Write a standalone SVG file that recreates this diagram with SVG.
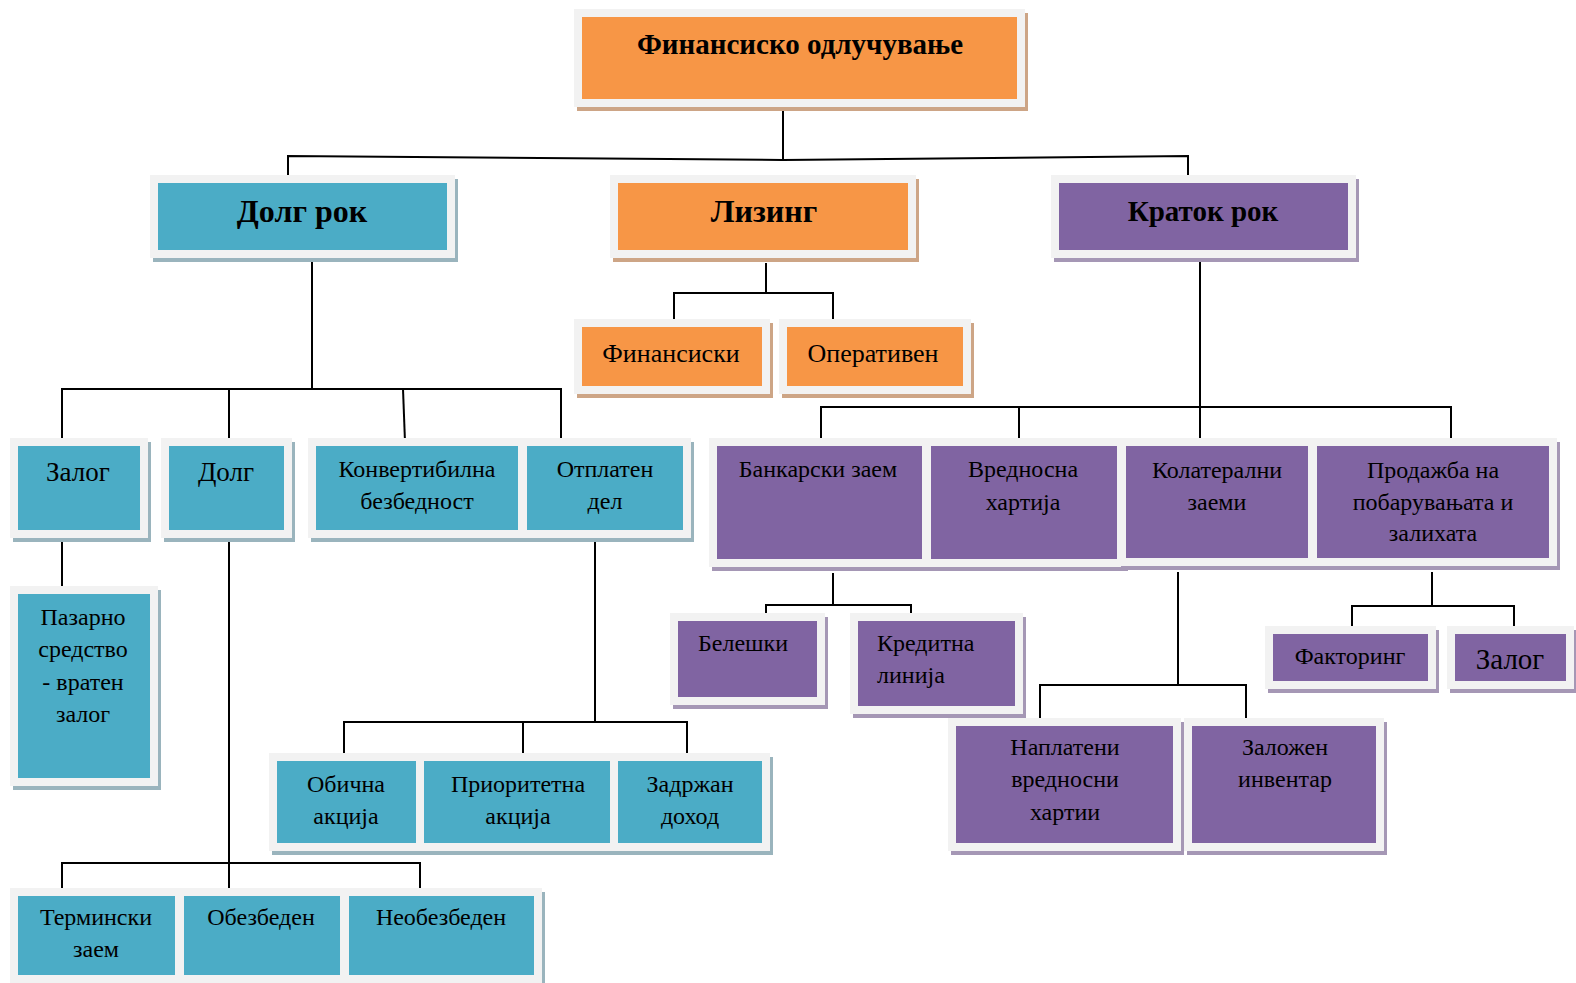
<svg xmlns="http://www.w3.org/2000/svg" width="1576" height="983" viewBox="0 0 1576 983">
<style>
.bg{fill:#ffffff}
.fr{fill:#F2F2F2}
.so{fill:#CDA586}
.sb{fill:#9AB4BD}
.sp{fill:#A597B5}
.o{fill:#F79646}
.b{fill:#4BACC6}
.p{fill:#8064A2}
text{font-family:"Liberation Serif","Times New Roman",serif;fill:#000;text-anchor:middle;font-size:24px}
.tb{font-weight:bold}
.big{font-size:27px}
.m{font-size:26px}
.l{text-anchor:start}
.cn path{fill:none;stroke:#000;stroke-width:2}
</style>
<rect class="bg" x="0" y="0" width="1576" height="983"/>
<g class="cn" id="connectors">
<path d="M783,110 V160"/>
<path d="M288,178 V156 L783,160 L1188,156 V178"/>
<path d="M766,263 V293"/>
<path d="M674,323 V293 H833 V323"/>
<path d="M312,262 V389"/>
<path d="M62,442 V389 H561 V442"/>
<path d="M229,389 V442"/>
<path d="M403,389 L405,442"/>
<path d="M62,540 V590"/>
<path d="M229,540 V893"/>
<path d="M62,893 V863 H420 V893"/>
<path d="M595,540 V722"/>
<path d="M344,757 V722 H687 V757"/>
<path d="M523,722 V757"/>
<path d="M1200,262 V442"/>
<path d="M821,442 V407 H1451 V442"/>
<path d="M1019,407 V442"/>
<path d="M833,573 V605"/>
<path d="M766,617 V605 H911 V617"/>
<path d="M1178,572 V685"/>
<path d="M1040,722 V685 H1246 V722"/>
<path d="M1432,572 V606"/>
<path d="M1352,632 V606 H1514 V632"/>
</g>
<g id="n-top"><rect class="so" x="577" y="13" width="451" height="98"/><rect class="fr" x="574" y="9" width="451" height="98"/><rect class="o" x="582" y="17" width="435" height="82"/><text class="tb" x="800" y="54" style="font-size:29px">Финансиско одлучување</text></g>
<g id="n-dolgrok"><rect class="sb" x="153" y="179" width="305" height="83"/><rect class="fr" x="150" y="175" width="305" height="83"/><rect class="b" x="158" y="183" width="289" height="67"/><text class="tb" x="302" y="222" style="font-size:32px">Долг рок</text></g>
<g id="n-lizing"><rect class="so" x="613" y="179" width="306" height="83"/><rect class="fr" x="610" y="175" width="306" height="83"/><rect class="o" x="618" y="183" width="290" height="67"/><text class="tb" x="764" y="222" style="font-size:32px">Лизинг</text></g>
<g id="n-kratokrok"><rect class="sp" x="1054" y="179" width="305" height="83"/><rect class="fr" x="1051" y="175" width="305" height="83"/><rect class="p" x="1059" y="183" width="289" height="67"/><text class="tb" x="1203" y="221" style="font-size:29px">Краток рок</text></g>
<g id="n-finansiski"><rect class="so" x="577" y="323" width="196" height="75"/><rect class="fr" x="574" y="319" width="196" height="75"/><rect class="o" x="582" y="327" width="180" height="59"/><text class="m" x="671" y="362">Финансиски</text></g>
<g id="n-operativen"><rect class="so" x="782" y="323" width="192" height="75"/><rect class="fr" x="779" y="319" width="192" height="75"/><rect class="o" x="787" y="327" width="176" height="59"/><text class="m" x="873" y="362">Оперативен</text></g>
<g id="n-zalog1"><rect class="sb" x="13" y="442" width="138" height="100"/><rect class="fr" x="10" y="438" width="138" height="100"/><rect class="b" x="18" y="446" width="122" height="84"/><text class="big" x="78" y="481">Залог</text></g>
<g id="n-dolg"><rect class="sb" x="164" y="442" width="131" height="100"/><rect class="fr" x="161" y="438" width="131" height="100"/><rect class="b" x="169" y="446" width="115" height="84"/><text class="big" x="226" y="481">Долг</text></g>
<g id="n-konv"><rect class="sb" x="311" y="442" width="218" height="100"/><rect class="fr" x="308" y="438" width="218" height="100"/><rect class="b" x="316" y="446" width="202" height="84"/><text x="417" y="477">Конвертибилна</text><text x="417" y="509">безбедност</text></g>
<g id="n-otplaten"><rect class="sb" x="522" y="442" width="172" height="100"/><rect class="fr" x="519" y="438" width="172" height="100"/><rect class="b" x="527" y="446" width="156" height="84"/><text x="605" y="477">Отплатен</text><text x="605" y="509">дел</text></g>
<g id="n-pazarno"><rect class="sb" x="13" y="590" width="148" height="200"/><rect class="fr" x="10" y="586" width="148" height="200"/><rect class="b" x="18" y="594" width="132" height="184"/><text x="83" y="625">Пазарно</text><text x="83" y="657">средство</text><text x="83" y="690">- вратен</text><text x="83" y="722">залог</text></g>
<g id="n-obicna"><rect class="sb" x="272" y="757" width="155" height="98"/><rect class="fr" x="269" y="753" width="155" height="98"/><rect class="b" x="277" y="761" width="139" height="82"/><text x="346" y="792">Обична</text><text x="346" y="824">акција</text></g>
<g id="n-prioritetna"><rect class="sb" x="419" y="757" width="202" height="98"/><rect class="fr" x="416" y="753" width="202" height="98"/><rect class="b" x="424" y="761" width="186" height="82"/><text x="518" y="792">Приоритетна</text><text x="518" y="824">акција</text></g>
<g id="n-zadrzan"><rect class="sb" x="613" y="757" width="160" height="98"/><rect class="fr" x="610" y="753" width="160" height="98"/><rect class="b" x="618" y="761" width="144" height="82"/><text x="690" y="792">Задржан</text><text x="690" y="824">доход</text></g>
<g id="n-terminski"><rect class="sb" x="13" y="892" width="173" height="95"/><rect class="fr" x="10" y="888" width="173" height="95"/><rect class="b" x="18" y="896" width="157" height="79"/><text x="96" y="925">Термински</text><text x="96" y="957">заем</text></g>
<g id="n-obezbeden"><rect class="sb" x="179" y="892" width="172" height="95"/><rect class="fr" x="176" y="888" width="172" height="95"/><rect class="b" x="184" y="896" width="156" height="79"/><text x="261" y="925">Обезбеден</text></g>
<g id="n-neobezbeden"><rect class="sb" x="344" y="892" width="201" height="95"/><rect class="fr" x="341" y="888" width="201" height="95"/><rect class="b" x="349" y="896" width="185" height="79"/><text x="441" y="925">Необезбеден</text></g>
<g id="n-bankarski"><rect class="sp" x="712" y="442" width="221" height="129"/><rect class="fr" x="709" y="438" width="221" height="129"/><rect class="p" x="717" y="446" width="205" height="113"/><text x="818" y="477">Банкарски заем</text></g>
<g id="n-vrednosna"><rect class="sp" x="926" y="442" width="202" height="129"/><rect class="fr" x="923" y="438" width="202" height="129"/><rect class="p" x="931" y="446" width="186" height="113"/><text x="1023" y="477">Вредносна</text><text x="1023" y="510">хартија</text></g>
<g id="n-kolaterali"><rect class="sp" x="1121" y="442" width="198" height="128"/><rect class="fr" x="1118" y="438" width="198" height="128"/><rect class="p" x="1126" y="446" width="182" height="112"/><text x="1217" y="478">Колатерални</text><text x="1217" y="510">заеми</text></g>
<g id="n-prodazba"><rect class="sp" x="1312" y="442" width="248" height="128"/><rect class="fr" x="1309" y="438" width="248" height="128"/><rect class="p" x="1317" y="446" width="232" height="112"/><text x="1433" y="478">Продажба на</text><text x="1433" y="510">побарувањата и</text><text x="1433" y="541">залихата</text></g>
<g id="n-beleski"><rect class="sp" x="673" y="617" width="155" height="92"/><rect class="fr" x="670" y="613" width="155" height="92"/><rect class="p" x="678" y="621" width="139" height="76"/><text x="743" y="651">Белешки</text></g>
<g id="n-kreditna"><rect class="sp" x="853" y="617" width="173" height="101"/><rect class="fr" x="850" y="613" width="173" height="101"/><rect class="p" x="858" y="621" width="157" height="85"/><text class="l" x="877" y="651">Кредитна</text><text class="l" x="877" y="683">линија</text></g>
<g id="n-naplateni"><rect class="sp" x="951" y="722" width="233" height="133"/><rect class="fr" x="948" y="718" width="233" height="133"/><rect class="p" x="956" y="726" width="217" height="117"/><text x="1065" y="755">Наплатени</text><text x="1065" y="787">вредносни</text><text x="1065" y="820">хартии</text></g>
<g id="n-zalozen"><rect class="sp" x="1187" y="722" width="200" height="133"/><rect class="fr" x="1184" y="718" width="200" height="133"/><rect class="p" x="1192" y="726" width="184" height="117"/><text x="1285" y="755">Заложен</text><text x="1285" y="787">инвентар</text></g>
<g id="n-faktoring"><rect class="sp" x="1268" y="630" width="171" height="63"/><rect class="fr" x="1265" y="626" width="171" height="63"/><rect class="p" x="1273" y="634" width="155" height="47"/><text x="1350" y="664">Факторинг</text></g>
<g id="n-zalog2"><rect class="sp" x="1450" y="630" width="127" height="63"/><rect class="fr" x="1447" y="626" width="127" height="63"/><rect class="p" x="1455" y="634" width="111" height="47"/><text x="1510" y="669" style="font-size:29px">Залог</text></g>
</svg>
